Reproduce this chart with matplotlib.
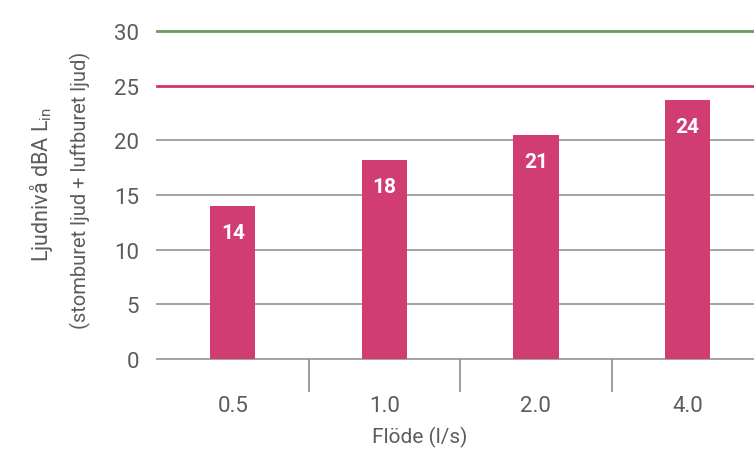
import matplotlib
matplotlib.use("Agg")
import matplotlib.pyplot as plt
import numpy as np

# data
flow = ['0.5', '1.0', '2.0', '4.0']
level = [14.0, 18.2, 20.5, 23.7]
level_text = ['14', '18', '21', '24']
grid_levels = [0, 5, 10, 15, 20]
limit_green = 30
limit_pink = 25

plt.rcParams['font.family'] = ['Roboto', 'DejaVu Sans']
text_col = '#5c5c5c'
bar_col = '#d13c72'

fig = plt.figure(figsize=(7.54, 4.56), dpi=100)
ax = fig.add_axes([157 / 754, 96 / 456, 597 / 754, 328 / 456])

x = np.arange(len(flow))
ax.set_xlim(-0.5, 3.44)
ax.set_ylim(0, 30)

#   gridlines
for g in grid_levels:
    ax.axhline(g, color='#a3a3a3', lw=1.4, zorder=1, clip_on=False)
ax.axhline(limit_pink, color='#d0336e', lw=2, zorder=1, clip_on=False)
ax.axhline(limit_green, color='#6d9a5c', lw=2, zorder=1, clip_on=False)

bars = ax.bar(x, level, width=0.30, color=bar_col, zorder=2)
for xi, v, t in zip(x, level, level_text):
    ax.annotate(t, (xi, v), xytext=(0, -19), textcoords='offset points',
                ha='center', va='center', color='white', fontsize=15,
                fontweight='bold', zorder=3)

for s in ax.spines.values():
    s.set_visible(False)

ax.set_yticks([0, 5, 10, 15, 20, 25, 30])
ax.tick_params(axis='y', length=0, pad=13, labelsize=16, labelcolor=text_col)

ax.set_xticks(x)
ax.set_xticklabels(flow)
ax.tick_params(axis='x', which='major', length=0, pad=26, labelsize=16,
               labelcolor=text_col)
ax.set_xticks([0.5, 1.5, 2.5], minor=True)
ax.tick_params(axis='x', which='minor', length=24, width=1.2, color='#8a8a8a')

fig.text(420 / 754, 1 - 437 / 456, 'Flöde (l/s)', ha='center', va='center',
         fontsize=15, color=text_col)
fig.text(42 / 754, 1 - 185 / 456, 'Ljudnivå dBA L$_{\\mathregular{in}}$',
         rotation=90, ha='center', va='center', fontsize=15.5, color=text_col)
fig.text(80 / 754, 1 - 190 / 456, '(stomburet ljud + luftburet ljud)',
         rotation=90, ha='center', va='center', fontsize=14.5, color=text_col)

fig.savefig('out.png', dpi=100)
